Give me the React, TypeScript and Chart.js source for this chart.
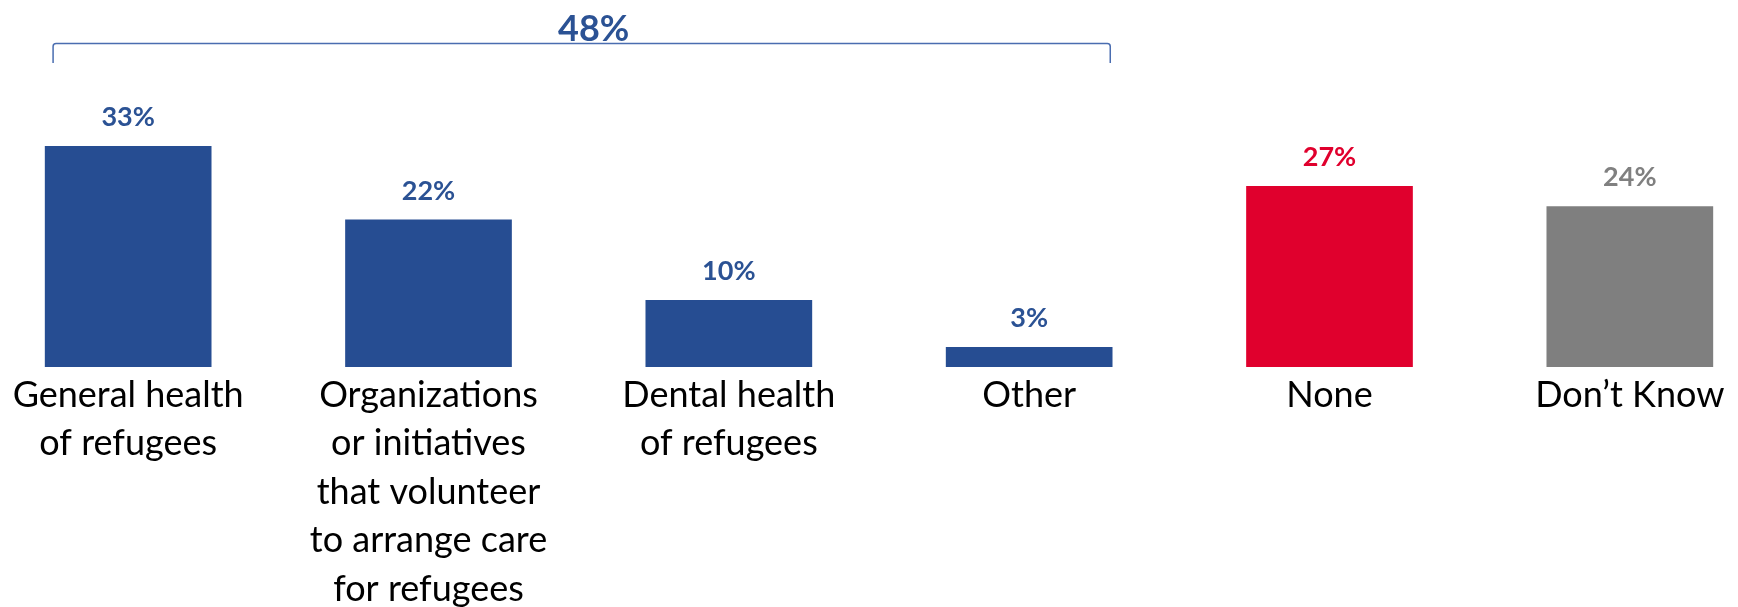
import React, { useEffect, useRef } from "react";
import { Chart, registerables } from "chart.js";

Chart.register(...registerables);

const categories: string[][] = [
  ["General health", "of refugees"],
  ["Organizations", "or initiatives", "that volunteer", "to arrange care", "for refugees"],
  ["Dental health", "of refugees"],
  ["Other"],
  ["None"],
  ["Don’t Know"],
];
const values: number[] = [33, 22, 10, 3, 27, 24];
const barColors: string[] = ["#264D92", "#264D92", "#264D92", "#264D92", "#E0002D", "#7F7F7F"];
const labelColors: string[] = ["#2B5294", "#2B5294", "#2B5294", "#2B5294", "#E0002D", "#808080"];
const groupTotalLabel = "48%";
const groupFrom = 0;
const groupTo = 3;

const FONT = "Lato, 'Open Sans', sans-serif";

const overlayPlugin = {
  id: "overlay",
  afterDatasetsDraw(chart: any) {
    const ctx = chart.ctx;
    const meta = chart.getDatasetMeta(0);
    ctx.save();
    // value labels
    ctx.font = `bold 27px ${FONT}`;
    ctx.textAlign = "center";
    ctx.textBaseline = "alphabetic";
    meta.data.forEach((bar: any, i: number) => {
      ctx.fillStyle = labelColors[i];
      ctx.fillText(`${values[i]}%`, bar.x, bar.y - 20);
    });
    // bracket
    const xs = chart.scales.x;
    const spacing = xs.getPixelForValue(1) - xs.getPixelForValue(0);
    const x1 = xs.getPixelForValue(groupFrom) - spacing * 0.25;
    const x2 = xs.getPixelForValue(groupTo) + spacing * 0.27;
    const yTop = 43.5;
    const yBot = 63;
    const r = 3;
    ctx.strokeStyle = "#4A6DB0";
    ctx.lineWidth = 1.5;
    ctx.beginPath();
    ctx.moveTo(x1, yBot);
    ctx.lineTo(x1, yTop + r);
    ctx.quadraticCurveTo(x1, yTop, x1 + r, yTop);
    ctx.lineTo(x2 - r, yTop);
    ctx.quadraticCurveTo(x2, yTop, x2, yTop + r);
    ctx.lineTo(x2, yBot);
    ctx.stroke();
    ctx.font = `bold 36px ${FONT}`;
    ctx.fillStyle = "#2B5294";
    ctx.fillText(groupTotalLabel, (x1 + x2) / 2 + 12, 41);
    ctx.restore();
  },
};

export default function App() {
  const ref = useRef<HTMLCanvasElement | null>(null);
  useEffect(() => {
    if (!ref.current) return;
    const chart = new Chart(ref.current, {
      type: "bar",
      data: {
        labels: categories,
        datasets: [
          {
            data: values,
            backgroundColor: barColors,
            borderWidth: 0,
            categoryPercentage: 1,
            barPercentage: 0.555,
          },
        ],
      },
      options: {
        animation: false,
        responsive: false,
        devicePixelRatio: 1,
        layout: { padding: { top: 32, left: 0, right: 0, bottom: 0 } },
        plugins: { legend: { display: false }, tooltip: { enabled: false } },
        scales: {
          y: { display: false, min: 0, max: 50 },
          x: {
            grid: { display: false, drawTicks: false },
            border: { display: false },
            afterFit: (scale: any) => {
              scale.height = 240;
            },
            ticks: {
              color: "#000",
              padding: 4,
              maxRotation: 0,
              autoSkip: false,
              font: { family: FONT, size: 36, lineHeight: "48.5px" as any },
            },
          },
        },
      },
      plugins: [overlayPlugin],
    });
    return () => chart.destroy();
  }, []);
  return (
    <div
      style={{
        position: "fixed",
        left: 0,
        top: 0,
        width: 1738,
        height: 607,
        overflow: "hidden",
        background: "#fff",
      }}
    >
      <canvas
        ref={ref}
        width={1802}
        height={607}
        style={{ position: "absolute", left: -22, top: 0, width: 1802, height: 607 }}
      />
    </div>
  );
}
